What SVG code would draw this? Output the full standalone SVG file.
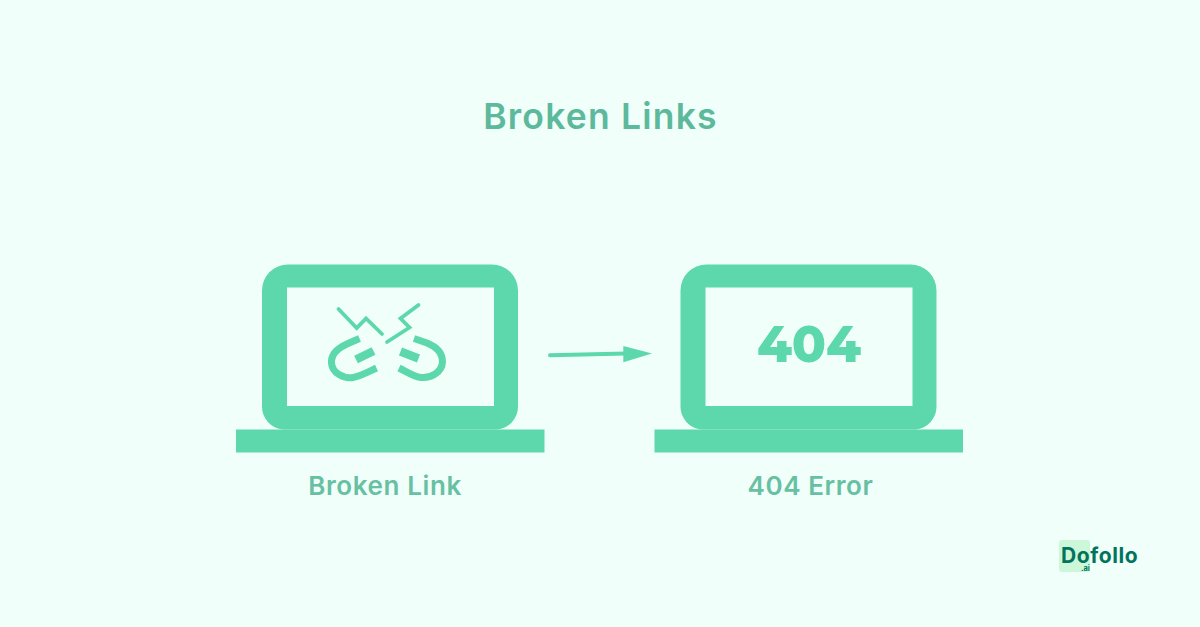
<svg xmlns="http://www.w3.org/2000/svg" width="1200" height="627" viewBox="0 0 1200 627">
  <style>
    .body { fill: #5cd8ac; }
    .screen { fill: #f0fffa; }
    .link { fill: none; stroke: #5cd8ac; stroke-linejoin: miter; }
    .label { font-family: "Inter", "Liberation Sans", sans-serif; font-weight: 600; fill: #68c0a3; text-anchor: middle; letter-spacing: 0.6px; }
    .logo { font-family: "Inter", "Liberation Sans", sans-serif; font-weight: 700; fill: #02735c; }
  </style>
  <defs>
    <g id="laptop">
      <path class="body" d="M288 264.500 H492 A26 26 0 0 1 518 290.500 V406 A23 23 0 0 1 497 429.500 H283 A23 23 0 0 1 262 406 V290.500 A26 26 0 0 1 288 264.500 Z"/>
      <rect class="body" x="236" y="429.500" width="308.500" height="23"/>
      <rect class="screen" x="287" y="287.500" width="207" height="118.500"/>
    </g>
  </defs>
  <rect width="1200" height="627" fill="#f0fffa"/>

  <text id="title" class="label" x="600.500" y="129" font-size="35.500" style="fill:#5db99b;letter-spacing:1.2px">Broken Links</text>

  <g id="laptop-broken-link">
    <use href="#laptop"/>
    <g class="link">
      <path stroke-width="3.800" stroke-linecap="round" d="M338.500 309 L356.700 328 L366 318.500 L382 334"/>
      <path stroke-width="3.800" stroke-linecap="round" d="M418.500 305 L400.500 318.500 L409.500 327.500 L387 342"/>
      <path stroke-width="7" d="M359.500 338.500 L347 344 C336 349 331 356 331.500 363 C332 373 344 379 353 377.500 C360 376.500 368 372 376.500 368"/>
      <path stroke-width="8.500" d="M356 359.500 L373.500 351"/>
      <path stroke-width="7" d="M414 338.500 L427 343 C437 347 442.500 354 442.500 362 C442 372 431 378.500 421 377.500 C414 377 407 372 399 368"/>
      <path stroke-width="8.500" d="M400.500 351.500 L418.500 358.500"/>
    </g>
    <text class="label" x="385" y="495" font-size="26">Broken Link</text>
  </g>

  <g id="connectors">
    <path d="M550 355.200 L626 353.600" fill="none" stroke="#5cd8ac" stroke-width="4" stroke-linecap="round"/>
    <path d="M623.300 346 L652 353.400 L623.300 362.300 Z" fill="#5cd8ac"/>
  </g>

  <g id="laptop-404-error">
    <use href="#laptop" x="418.500"/>
    <text x="809" y="362" font-family="Montserrat, Inter, 'Liberation Sans', sans-serif" font-weight="800" font-size="50" fill="#5cd8ac" text-anchor="middle">404</text>
    <text class="label" x="810.500" y="495" font-size="26">404 Error</text>
  </g>

  <g id="logo">
    <rect x="1059" y="540" width="31" height="32" rx="3" fill="#ccf7d9"/>
    <text class="logo" x="1061" y="562.500" font-size="21" letter-spacing="0.6">Dofollo</text>
    <text class="logo" x="1081" y="571" font-size="7.500">.ai</text>
  </g>
</svg>
